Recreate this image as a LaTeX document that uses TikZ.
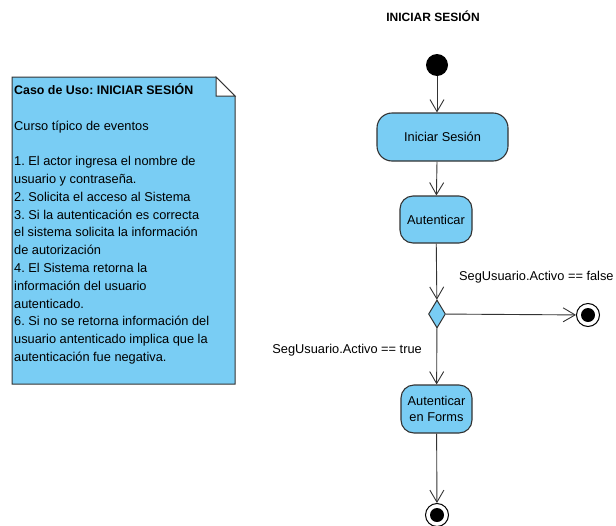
\documentclass[tikz,border=0pt]{standalone}
\usepackage{fontspec}
\setmainfont{Liberation Sans}
\usetikzlibrary{shapes.geometric,arrows.meta}
\definecolor{ablue}{HTML}{79CDF4}
\definecolor{aline}{HTML}{333333}
\frenchspacing
\begin{document}
\begin{tikzpicture}[x=1pt,y=-1pt,
  txt/.style={font=\fontsize{12.8}{14}\selectfont, inner sep=0pt},
  act/.style={draw=aline, line width=1.1pt, fill=ablue, rounded corners=15pt, inner sep=0pt, font=\fontsize{12.8}{16}\selectfont, align=center},
  flow/.style={draw=aline, line width=0.9pt, -{Straight Barb[length=12pt,width=14pt,line width=0.9pt]}},
  endnode/.style={circle, draw=black, line width=1pt, fill=white, minimum size=23pt, inner sep=0pt}
]
\useasboundingbox (0,0) rectangle (616,525);

% note
\draw[draw=aline, line width=1pt, fill=ablue] (12,77) -- (216,77) -- (235,96) -- (235,384) -- (12,384) -- cycle;
\draw[draw=aline, line width=1pt, fill=white] (216,77) -- (216,96) -- (235,96) -- cycle;
\node[txt, anchor=base west, font=\fontsize{12.4}{14}\selectfont\bfseries] (nh) at (14,94.5) {Caso de Uso: INICIAR SESIÓN};
\foreach \k/\t in {2/Curso típico de eventos,
  4/1. El actor ingresa el nombre de,
  5/usuario y contraseña.,
  6/2. Solicita el acceso al Sistema,
  7/3. Si la autenticación es correcta,
  8/el sistema solicita la información,
  9/de autorización,
  10/4. El Sistema retorna la,
  11/información del usuario,
  12/autenticado.,
  13/6. Si no se retorna información del,
  14/usuario antenticado implica que la,
  15/autenticación fue negativa.}
  \node[txt, anchor=base west] (nl\k) at (14,94.5+17.8*\k) {\t};

% title
\node[txt, font=\fontsize{12}{14}\selectfont\bfseries] (title) at (433,16) {INICIAR SESIÓN};

% activity
\node[circle, fill=black, minimum size=22pt, inner sep=0pt] (start) at (437,65) {};
\node[act, minimum width=131pt, minimum height=48pt] (isesion) at (442.5,137) {Iniciar Sesión};
\node[act, minimum width=72pt, minimum height=47pt, rounded corners=13pt] (aut) at (436,219.5) {Autenticar};
\node[diamond, draw=aline, line width=1pt, fill=ablue, minimum width=17pt, minimum height=28pt, inner sep=0pt] (dec) at (437,314) {};
\node[endnode] (fin1) at (588,315) {};
\node[circle, fill=black, minimum size=14pt, inner sep=0pt] (fin1i) at (fin1) {};
\node[act, minimum width=71pt, minimum height=48pt, rounded corners=13pt] (forms) at (436.5,409) {Autenticar\\en Forms};
\node[endnode] (fin2) at (437,515) {};
\node[circle, fill=black, minimum size=14pt, inner sep=0pt] (fin2i) at (fin2) {};

\node[txt, anchor=west] (lfalse) at (459,277) {SegUsuario.Activo == false};
\node[txt, anchor=east] (ltrue) at (422,350) {SegUsuario.Activo == true};

\draw[flow] (start) -- (start |- isesion.north);
\draw[flow] (start |- isesion.south) -- (aut);
\draw[flow] (aut) -- (dec);
\draw[flow] (dec) -- (fin1);
\draw[flow] (dec) -- (forms);
\draw[flow] (forms) -- (fin2);
\end{tikzpicture}
\end{document}
